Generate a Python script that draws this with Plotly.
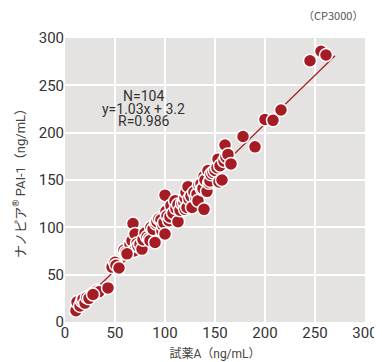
import plotly.graph_objects as go

x_vals = [11, 12, 15, 17, 18, 20, 22, 24, 28, 30, 32, 34, 43, 47, 50, 51, 54, 59, 61, 65,
          67, 68, 69, 70, 72, 73, 75, 77, 78, 80, 82, 84, 85, 86, 88, 90, 91, 92, 94, 96,
          97, 98, 99, 100, 100, 101, 102, 104, 105, 106, 108, 110, 111, 113, 113, 115, 117, 119, 120, 120,
          121, 122, 123, 124, 126, 127, 129, 131, 132, 133, 134, 136, 137, 138, 139, 139, 140, 142, 143, 144,
          145, 146, 148, 150, 152, 153, 154, 155, 157, 159, 160, 161, 163, 166, 178, 190, 200, 208, 216, 245,
          256, 261, 62, 28]
y_vals = [12, 21, 17, 22, 24, 20, 26, 25, 30, 31, 33, 32, 36, 58, 63, 60, 57, 76, 74, 82,
          86, 104, 75, 93, 83, 80, 82, 77, 87, 94, 90, 88, 86, 100, 98, 84, 104, 106, 109, 108,
          96, 102, 105, 93, 134, 117, 112, 107, 111, 123, 115, 128, 120, 106, 124, 118, 125, 126, 119, 131,
          137, 121, 143, 130, 133, 121, 137, 131, 135, 128, 145, 146, 140, 141, 119, 154, 150, 138, 160, 147,
          149, 156, 158, 160, 163, 172, 148, 165, 150, 170, 187, 174, 177, 167, 196, 185, 214, 213, 224, 276,
          286, 282, 72, 29]

fit_x = [10, 270]
slope, intercept = 1.03, 3.2
fit_y = [slope * v + intercept for v in fit_x]

ticks = [0, 50, 100, 150, 200, 250, 300]
stats_lines = ["N=104", "y=1.03x + 3.2", "R=0.986"]
stats_y = [0.797, 0.751, 0.706]

red = "#a61c25"
font_family = "Liberation Sans Narrow, Roboto, Noto Sans CJK JP, sans-serif"

fig = go.Figure()
fig.add_trace(go.Scatter(x=fit_x, y=fit_y, mode="lines",
                         line=dict(color=red, width=1.2), hoverinfo="skip", showlegend=False))
fig.add_trace(go.Scatter(x=x_vals, y=y_vals, mode="markers",
                         marker=dict(size=13, color=red, line=dict(color="white", width=1.5)),
                         showlegend=False))

fig.update_layout(
    width=382, height=362,
    margin=dict(l=50, r=19, t=30, b=47),
    paper_bgcolor="white", plot_bgcolor="#e5e3e2",
    font=dict(family=font_family, color="#333333", size=14),
    xaxis=dict(range=[0, 300], tickvals=ticks, showgrid=True, gridcolor="white", gridwidth=1.5,
               zeroline=False, showline=False, ticks="", tickfont=dict(size=15, color="#333333"),
               title=dict(text="試薬A（ng/mL）", font=dict(size=12, color="#444444"), standoff=8)),
    yaxis=dict(range=[0, 300], tickvals=ticks, showgrid=True, gridcolor="white", gridwidth=1.5,
               zeroline=False, showline=False, ticks="", tickfont=dict(size=15, color="#333333"),
               title=dict(text="ナノピア<sup>®</sup> PAI-1（ng/mL）", font=dict(size=13, color="#444444"), standoff=10)),
)

for txt, yy in zip(stats_lines, stats_y):
    fig.add_annotation(x=0.262, y=yy, xref="paper", yref="paper", xanchor="center", yanchor="middle",
                       text=txt, showarrow=False,
                       font=dict(size=14, color="#333333", family=font_family))
fig.add_annotation(x=1.0, y=1.0, xref="paper", yref="paper", xanchor="right", yanchor="bottom",
                   yshift=13, text="（CP3000）", showarrow=False,
                   font=dict(size=11, color="#555555", family="Noto Sans CJK JP, sans-serif"))

fig.write_html("out.html")
